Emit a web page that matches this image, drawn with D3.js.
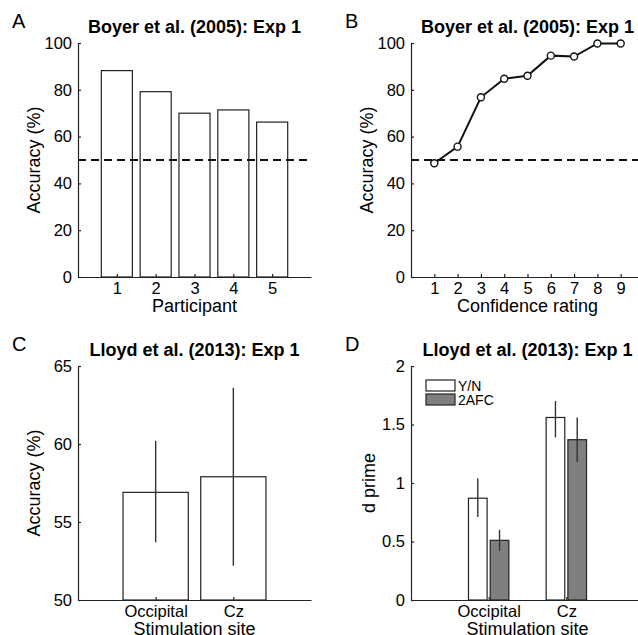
<!DOCTYPE html>
<html lang="en">
<head>
    <meta charset="UTF-8">
    <title>Metacognition panels</title>
    <script src="https://d3js.org/d3.v7.min.js"></script>
    <style>
        body { margin: 0; background: #fff; }
        svg { display: block; font-family: "Liberation Sans", Arial, sans-serif; }
        .axis path, .axis line { stroke: #222; stroke-width: 1.2; }
        .axis text { font-size: 16.5px; fill: #000; }
        .label { font-size: 18px; fill: #000; }
        .title { font-size: 18px; font-weight: bold; fill: #000; }
        .letter { font-size: 20px; fill: #000; }
        .chance { stroke: #111; stroke-width: 2; stroke-dasharray: 8,5; }
        .err { stroke: #333; stroke-width: 1.4; }
    </style>
</head>
<body>
<div id="chart"></div>
<script>
// Panel A: Boyer et al. (2005) per-participant accuracy
const participants = [1, 2, 3, 4, 5];
const boyerAcc = [88.2, 79.2, 70.0, 71.4, 66.2];

// Panel B: accuracy by confidence rating
const ratings = [1, 2, 3, 4, 5, 6, 7, 8, 9];
const ratingAcc = [48.6, 55.7, 76.8, 84.7, 86.0, 94.6, 94.2, 99.8, 99.8];

// Panel C: Lloyd et al. (2013) accuracy by stimulation site
const sites = ["Occipital", "Cz"];
const lloydAcc = [56.9, 57.9];
const lloydLo = [53.7, 52.2];
const lloydHi = [60.2, 63.6];

// Panel D: d prime by site and task
const tasks = ["Y/N", "2AFC"];
const dprimeYN = [0.87, 1.56];
const dprimeYNLo = [0.71, 1.39];
const dprimeYNHi = [1.04, 1.70];
const dprime2AFC = [0.51, 1.37];
const dprime2AFCLo = [0.42, 1.18];
const dprime2AFCHi = [0.60, 1.56];

const W = 638, H = 635;
const svg = d3.select("#chart").append("svg")
    .attr("width", W).attr("height", H);

// plot boxes for the four panels
const boxes = {
    A: {left: 78, right: 311, top: 43, bottom: 277},
    B: {left: 411, right: 644, top: 43, bottom: 277},
    C: {left: 78, right: 311, top: 366, bottom: 600},
    D: {left: 411, right: 644, top: 366, bottom: 600}
};

function axes(b, x, y, xticks, yticks, xfmt, yfmt) {
    svg.append("g").attr("class", "axis")
        .attr("transform", "translate(0," + b.bottom + ")")
        .call(d3.axisBottom(x).tickValues(xticks).tickSizeInner(-3).tickSizeOuter(0).tickPadding(5).tickFormat(xfmt));
    svg.append("g").attr("class", "axis")
        .attr("transform", "translate(" + b.left + ",0)")
        .call(d3.axisLeft(y).tickValues(yticks).tickSizeInner(-3).tickSizeOuter(0).tickPadding(6).tickFormat(yfmt));
}

function texts(b, letter, title, xlab, ylab, ylabX) {
    const cx = (b.left + b.right) / 2;
    svg.append("text").attr("class", "letter")
        .attr("x", b.left - 66).attr("y", b.top - 15).text(letter);
    svg.append("text").attr("class", "title").attr("text-anchor", "middle")
        .attr("x", cx).attr("y", b.top - 10).text(title);
    svg.append("text").attr("class", "label").attr("text-anchor", "middle")
        .attr("x", cx).attr("y", b.bottom + 35).text(xlab);
    svg.append("text").attr("class", "label").attr("text-anchor", "middle")
        .attr("transform", "translate(" + ylabX + "," + ((b.top + b.bottom) / 2) + ") rotate(-90)")
        .text(ylab);
}

function chance(b, y) {
    svg.append("line").attr("class", "chance")
        .attr("x1", b.left).attr("x2", b.right)
        .attr("y1", y(50)).attr("y2", y(50));
}

// ---------- Panel A ----------
(function() {
    const b = boxes.A;
    const x = d3.scaleLinear().domain([0, 6]).range([b.left, b.right]);
    const y = d3.scaleLinear().domain([0, 100]).range([b.bottom, b.top]);
    const bw = 0.8;
    svg.append("g").selectAll("rect").data(participants).join("rect")
        .attr("x", d => x(d - bw / 2))
        .attr("width", x(bw) - x(0))
        .attr("y", (d, i) => y(boyerAcc[i]))
        .attr("height", (d, i) => y(0) - y(boyerAcc[i]))
        .attr("fill", "#fff").attr("stroke", "#222").attr("stroke-width", 1.2);
    chance(b, y);
    axes(b, x, y, participants, [0, 20, 40, 60, 80, 100], d => d, d => d);
    texts(b, "A", "Boyer et al. (2005): Exp 1", "Participant", "Accuracy (%)", 40);
})();

// ---------- Panel B ----------
(function() {
    const b = boxes.B;
    const x = d3.scaleLinear().domain([0, 10]).range([b.left, b.right]);
    const y = d3.scaleLinear().domain([0, 100]).range([b.bottom, b.top]);
    chance(b, y);
    const line = d3.line()
        .x(d => x(d))
        .y((d, i) => y(ratingAcc[i]));
    svg.append("path").datum(ratings)
        .attr("d", line)
        .attr("fill", "none").attr("stroke", "#111").attr("stroke-width", 2);
    svg.append("g").selectAll("circle").data(ratings).join("circle")
        .attr("cx", d => x(d))
        .attr("cy", (d, i) => y(ratingAcc[i]))
        .attr("r", 3.5)
        .attr("fill", "#fff").attr("stroke", "#111").attr("stroke-width", 1.4);
    axes(b, x, y, ratings, [0, 20, 40, 60, 80, 100], d => d, d => d);
    texts(b, "B", "Boyer et al. (2005): Exp 1", "Confidence rating", "Accuracy (%)", 373);
})();

// ---------- Panel C ----------
(function() {
    const b = boxes.C;
    const x = d3.scaleLinear().domain([0, 3]).range([b.left, b.right]);
    const y = d3.scaleLinear().domain([50, 65]).range([b.bottom, b.top]);
    const bw = 0.84;
    const pos = sites.map((s, i) => i + 1);
    svg.append("g").selectAll("rect").data(pos).join("rect")
        .attr("x", d => x(d - bw / 2))
        .attr("width", x(bw) - x(0))
        .attr("y", (d, i) => y(lloydAcc[i]))
        .attr("height", (d, i) => y(50) - y(lloydAcc[i]))
        .attr("fill", "#fff").attr("stroke", "#222").attr("stroke-width", 1.2);
    svg.append("g").selectAll("line").data(pos).join("line")
        .attr("class", "err")
        .attr("x1", d => x(d)).attr("x2", d => x(d))
        .attr("y1", (d, i) => y(lloydLo[i]))
        .attr("y2", (d, i) => y(lloydHi[i]));
    axes(b, x, y, pos, [50, 55, 60, 65], (d, i) => sites[i], d => d);
    texts(b, "C", "Lloyd et al. (2013): Exp 1", "Stimulation site", "Accuracy (%)", 40);
})();

// ---------- Panel D ----------
(function() {
    const b = boxes.D;
    const x = d3.scaleLinear().domain([0, 3]).range([b.left, b.right]);
    const y = d3.scaleLinear().domain([0, 2]).range([b.bottom, b.top]);
    const bw = 0.24, off = 0.14;
    const pos = sites.map((s, i) => i + 1);
    const series = [
        {name: tasks[0], v: dprimeYN, lo: dprimeYNLo, hi: dprimeYNHi, fill: "#fff", dx: -off},
        {name: tasks[1], v: dprime2AFC, lo: dprime2AFCLo, hi: dprime2AFCHi, fill: "#7f7f7f", dx: off}
    ];
    series.forEach(s => {
        const g = svg.append("g");
        g.selectAll("rect").data(pos).join("rect")
            .attr("x", d => x(d + s.dx - bw / 2))
            .attr("width", x(bw) - x(0))
            .attr("y", (d, i) => y(s.v[i]))
            .attr("height", (d, i) => y(0) - y(s.v[i]))
            .attr("fill", s.fill).attr("stroke", "#222").attr("stroke-width", 1.2);
        g.selectAll("line").data(pos).join("line")
            .attr("class", "err")
            .attr("x1", d => x(d + s.dx)).attr("x2", d => x(d + s.dx))
            .attr("y1", (d, i) => y(s.lo[i]))
            .attr("y2", (d, i) => y(s.hi[i]));
    });
    axes(b, x, y, pos, [0, 0.5, 1, 1.5, 2], (d, i) => sites[i], d => String(d));
    texts(b, "D", "Lloyd et al. (2013): Exp 1", "Stimulation site", "d prime", 375);

    // legend
    const lg = svg.append("g").attr("transform", "translate(" + (b.left + 15) + "," + (b.top + 14) + ")");
    series.forEach((s, i) => {
        lg.append("rect").attr("x", 0).attr("y", i * 14).attr("width", 29).attr("height", 11)
            .attr("fill", s.fill).attr("stroke", "#222").attr("stroke-width", 1.2);
        lg.append("text").attr("x", 32).attr("y", i * 14 + 10.5)
            .attr("font-size", 14).text(s.name);
    });
})();
</script>
</body>
</html>
